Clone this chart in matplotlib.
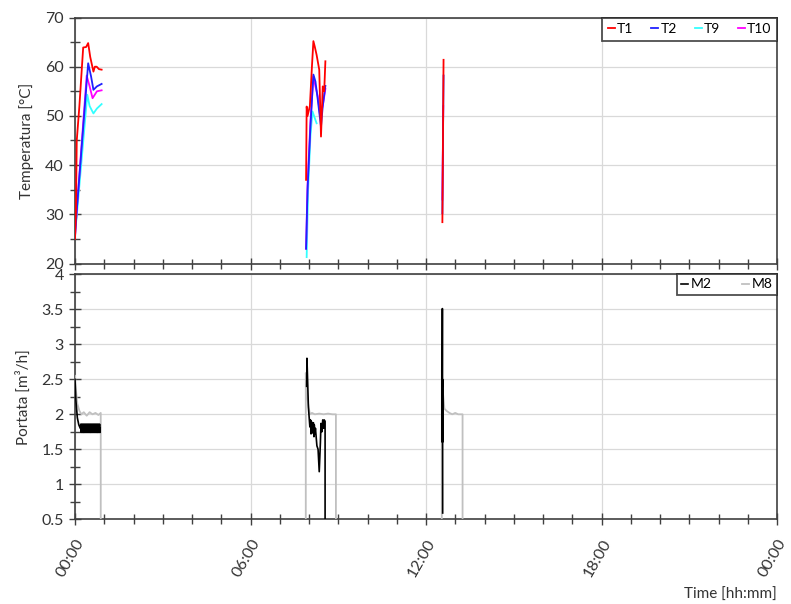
import numpy as np
import matplotlib
matplotlib.use("Agg")
import matplotlib.pyplot as plt
from matplotlib.ticker import MultipleLocator, FixedLocator

plt.rcParams['font.family'] = ['Lato', 'DejaVu Sans']
nan = np.nan

# ---------------- data (hours since 00:00) ----------------
t1_h = [0.0, 0.03, 0.06, 0.15, 0.28, 0.38, 0.45, 0.52, 0.63, 0.68, 0.74, 0.82, 0.91, nan,
        7.90, 7.92, 7.95, 8.03, 8.10, 8.15, 8.20, 8.26, 8.35, 8.41, 8.47, 8.52, 8.56, nan,
        12.56, 12.58, 12.60]
t1_v = [25, 30, 45, 52, 63.9, 64, 64.8, 62, 59, 60, 60, 59.5, 59.4, nan,
        37, 51.9, 50, 52, 60, 65.2, 64, 62.4, 59.4, 45.8, 56, 55, 61.1, nan,
        28.4, 45, 61.4]

t2_h = [0.0, 0.05, 0.45, 0.55, 0.63, 0.75, 0.91, nan,
        7.90, 7.95, 8.05, 8.15, 8.22, 8.30, 8.41, 8.47, 8.56, nan,
        12.56, 12.58, 12.60]
t2_v = [25.5, 30, 60.7, 58, 55.3, 56, 56.5, nan,
        23, 35, 48, 58.4, 57, 53.3, 47.8, 52, 56.1, nan,
        30.2, 45, 58.2]

t9_h = [0.0, 0.05, 0.42, 0.50, 0.63, 0.75, 0.91, nan,
        7.92, 7.97, 8.05, 8.12, 8.20, 8.26]
t9_v = [26.7, 29, 54.3, 52, 50.5, 51.5, 52.4, nan,
        21.3, 35, 46, 50.9, 49.5, 48.5]

t10_h = [0.0, 0.05, 0.40, 0.50, 0.60, 0.75, 0.91, nan,
         7.90, 7.95, 8.05, 8.15, 8.22, 8.30, 8.38, 8.47, 8.56, nan,
         12.56, 12.59]
t10_v = [25.5, 30, 58.2, 56, 53.6, 55, 55.2, nan,
         23, 36, 49, 58, 56, 54, 50, 52, 55.5, nan,
         33, 52]

m8_h = [0.0, 0.03, 0.08, 0.15, 0.22, 0.30, 0.40, 0.50, 0.60, 0.70, 0.80, 0.88, 0.88, nan,
        7.89, 7.89, 7.92, 7.97, 8.03, 8.10, 8.20, 8.35, 8.50, 8.65, 8.80, 8.92, 8.92, nan,
        12.54, 12.54, 12.58, 12.63, 12.70, 12.80, 12.90, 13.00, 13.10, 13.25, 13.25]
m8_v = [2.55, 2.35, 2.15, 2.05, 2.0, 2.03, 1.98, 2.03, 2.0, 2.02, 1.99, 2.02, 0.5, nan,
        0.5, 2.59, 2.35, 2.15, 2.0, 2.02, 2.0, 2.01, 2.0, 2.01, 2.0, 2.0, 0.5, nan,
        0.5, 2.63, 2.3, 2.08, 2.05, 2.02, 2.0, 2.02, 2.0, 2.0, 0.5]

m2_h = [0.0, 0.03, 0.08, 0.13, 0.18,
        0.200, 0.210, 0.220, 0.230, 0.240, 0.250, 0.260, 0.270, 0.280, 0.290,
        0.300, 0.310, 0.320, 0.330, 0.340, 0.350, 0.360, 0.370, 0.380, 0.390,
        0.400, 0.410, 0.420, 0.430, 0.440, 0.450, 0.460, 0.470, 0.480, 0.490,
        0.500, 0.510, 0.520, 0.530, 0.540, 0.550, 0.560, 0.570, 0.580, 0.590,
        0.600, 0.610, 0.620, 0.630, 0.640, 0.650, 0.660, 0.670, 0.680, 0.690,
        0.700, 0.710, 0.720, 0.730, 0.740, 0.750, 0.760, 0.770, 0.780, 0.790,
        0.800, 0.810, 0.820, 0.830, 0.840, 0.850, 0.860, nan,
        7.92, 7.93, 7.98, 8.03, 8.05, 8.07, 8.08, 8.10, 8.12, 8.13, 8.15, 8.17, 8.18,
        8.20, 8.22, 8.25, 8.27, 8.31, 8.35, 8.39, 8.41, 8.44, 8.47, 8.50, 8.52, 8.55, 8.55, nan,
        12.555, 12.56, 12.562, 12.565, 12.568, 12.57]
m2_v = [2.5, 2.2, 1.95, 1.85, 1.8,
        1.86, 1.74, 1.85, 1.75, 1.86, 1.74, 1.85, 1.75, 1.86, 1.74,
        1.85, 1.75, 1.86, 1.74, 1.85, 1.75, 1.86, 1.74, 1.85, 1.75,
        1.86, 1.74, 1.85, 1.75, 1.86, 1.74, 1.85, 1.75, 1.86, 1.74,
        1.85, 1.75, 1.86, 1.74, 1.85, 1.75, 1.86, 1.74, 1.85, 1.75,
        1.86, 1.74, 1.85, 1.75, 1.86, 1.74, 1.85, 1.75, 1.86, 1.74,
        1.85, 1.75, 1.86, 1.74, 1.85, 1.75, 1.86, 1.74, 1.85, 1.75,
        1.86, 1.74, 1.85, 1.75, 1.86, 1.74, 1.80, nan,
        2.4, 2.8, 2.1, 1.82, 1.92, 1.72, 1.9, 1.73, 1.87, 1.75, 1.88, 1.68, 1.85,
        1.72, 1.8, 1.65, 1.55, 1.5, 1.18, 1.6, 1.87, 1.75, 1.92, 1.8, 1.92, 1.9, 0.5, nan,
        2.4, 3.51, 1.6, 2.5, 1.7, 0.59]

xticklabels = ['00:00', '06:00', '12:00', '18:00', '00:00']

# ---------------- figure ----------------
fig = plt.figure(figsize=(7.91, 6.04), dpi=100)
ax1 = fig.add_axes([75/791, 1-263.5/604, 702/791, 246/604])
ax2 = fig.add_axes([75/791, 1-519.3/604, 702/791, 245/604])

spine_c = '#404040'
grid_c = '#d9d9d9'

for ax in (ax1, ax2):
    ax.set_xlim(0, 24)
    ax.xaxis.set_major_locator(MultipleLocator(6))
    ax.xaxis.set_minor_locator(MultipleLocator(1))
    ax.grid(True, which='major', color=grid_c, lw=0.9, zorder=0)
    for s in ax.spines.values():
        s.set_color(spine_c)
        s.set_linewidth(1.2)
    ax.tick_params(which='major', direction='inout', length=9, width=1, color=spine_c,
                   labelsize=11.5, labelcolor='#333333')
    ax.tick_params(which='minor', direction='inout', length=7, width=1, color=spine_c)

# top panel
ax1.plot(t1_h, t1_v, color='#ff0000', lw=1.3, label='T1', zorder=5)
ax1.plot(t2_h, t2_v, color='#2020ff', lw=1.3, label='T2', zorder=4)
ax1.plot(t9_h, t9_v, color='#33ffff', lw=1.3, label='T9', zorder=3)
ax1.plot(t10_h, t10_v, color='#ff00ff', lw=1.3, label='T10', zorder=3)
ax1.set_ylim(20, 70)
ax1.yaxis.set_major_locator(MultipleLocator(10))
ax1.yaxis.set_minor_locator(MultipleLocator(5))
ax1.set_xticklabels([])
ax1.set_ylabel('Temperatura [°C]', fontsize=11, color='#333333', labelpad=8)
leg1 = ax1.legend(loc='upper right', ncol=4, frameon=True, fancybox=False,
                  handlelength=0.5, handletextpad=0.15, columnspacing=1.3,
                  borderaxespad=0, fontsize=10, borderpad=0.4)
leg1.get_frame().set_edgecolor('#222222')
leg1.get_frame().set_linewidth(1.3)

# bottom panel
ax2.plot(m8_h, m8_v, color='#c0c0c0', lw=1.3, label='M8', zorder=3)
ax2.plot(m2_h, m2_v, color='#000000', lw=1.2, label='M2', zorder=4)
ax2.set_ylim(0.5, 4)
ax2.yaxis.set_major_locator(FixedLocator([0.5, 1, 1.5, 2, 2.5, 3, 3.5, 4]))
ax2.set_yticklabels(['0.5', '1', '1.5', '2', '2.5', '3', '3.5', '4'])
ax2.yaxis.set_minor_locator(MultipleLocator(0.25))
ax2.set_xticks([0, 6, 12, 18, 24])
ax2.set_xticklabels(xticklabels, rotation=60, ha='right', va='top', rotation_mode='anchor')
ax2.tick_params(axis='x', which='major', pad=8)
ax2.set_ylabel('Portata [m³/h]', fontsize=11, color='#333333', labelpad=8)
ax2.set_xlabel('Time [hh:mm]', fontsize=11, color='#333333', loc='right', labelpad=6)
h, l = ax2.get_legend_handles_labels()
leg2 = ax2.legend([h[1], h[0]], [l[1], l[0]], loc='upper right', ncol=2, frameon=True,
                  fancybox=False, handlelength=0.5, handletextpad=0.2, columnspacing=2.2,
                  borderaxespad=0, fontsize=10, borderpad=0.3)
leg2.get_frame().set_edgecolor('#222222')
leg2.get_frame().set_linewidth(1.3)

fig.savefig('out.png', dpi=100)
